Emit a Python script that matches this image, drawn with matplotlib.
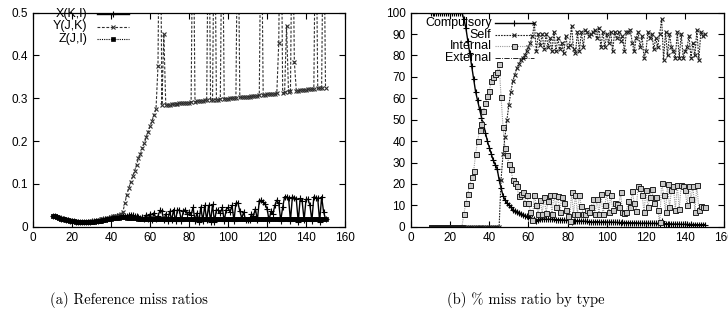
import numpy as np
import matplotlib
matplotlib.use("Agg")
import matplotlib.pyplot as plt
from matplotlib.lines import Line2D

# ---------------- data ----------------
x_vals = np.arange(10, 151)

x_ki = [0.025, 0.024, 0.022, 0.021, 0.019, 0.018, 0.017, 0.016, 0.015, 0.014, 0.013,
        0.013, 0.012, 0.012, 0.012, 0.011, 0.011, 0.011, 0.012, 0.012, 0.013,
        0.013, 0.014, 0.014, 0.015, 0.016, 0.017, 0.018, 0.019, 0.020, 0.021,
        0.022, 0.023, 0.024, 0.025, 0.026, 0.026, 0.025, 0.026, 0.027, 0.028,
        0.027, 0.025, 0.024, 0.022, 0.020, 0.023, 0.018, 0.028, 0.017, 0.030,
        0.016, 0.033, 0.017, 0.025, 0.038, 0.036, 0.015, 0.030, 0.014, 0.036,
        0.015, 0.040, 0.013, 0.040, 0.038, 0.014, 0.036, 0.040, 0.030, 0.034,
        0.028, 0.045, 0.014, 0.032, 0.012, 0.046, 0.013, 0.050, 0.015, 0.050,
        0.012, 0.052, 0.011, 0.040, 0.038, 0.032, 0.045, 0.013, 0.040, 0.045,
        0.034, 0.050, 0.014, 0.055, 0.056, 0.037, 0.020, 0.034, 0.015, 0.016,
        0.015, 0.030, 0.026, 0.042, 0.015, 0.060, 0.062, 0.058, 0.052, 0.042,
        0.015, 0.036, 0.030, 0.050, 0.062, 0.055, 0.014, 0.045, 0.070, 0.070,
        0.068, 0.014, 0.070, 0.068, 0.064, 0.012, 0.066, 0.060, 0.015, 0.064,
        0.064, 0.050, 0.014, 0.070, 0.068, 0.066, 0.012, 0.070, 0.035, 0.018]

y_jk = [0.026, 0.025, 0.023, 0.022, 0.020, 0.019, 0.018, 0.017, 0.016, 0.015,
        0.014, 0.013, 0.013, 0.012, 0.012, 0.012, 0.012, 0.012, 0.012, 0.013,
        0.013, 0.014, 0.014, 0.015, 0.016, 0.017, 0.018, 0.019, 0.020, 0.021,
        0.022, 0.024, 0.025, 0.026, 0.028, 0.030, 0.035, 0.055, 0.075, 0.090,
        0.105, 0.118, 0.130, 0.145, 0.160, 0.170, 0.183, 0.195, 0.210, 0.222,
        0.235, 0.248, 0.262, 0.276, 0.375, 0.900, 0.285, 0.450, 0.284, 0.285,
        0.285, 0.286, 0.286, 0.287, 0.287, 0.288, 0.288, 0.289, 0.289, 0.290,
        0.290, 0.291, 0.800, 0.292, 0.293, 0.293, 0.294, 0.294, 0.295, 0.295,
        0.800, 0.296, 0.296, 0.800, 0.297, 0.297, 0.298, 0.800, 0.298, 0.299,
        0.299, 0.300, 0.300, 0.301, 0.301, 0.800, 0.302, 0.302, 0.303, 0.303,
        0.304, 0.304, 0.305, 0.305, 0.306, 0.306, 0.307, 0.800, 0.308, 0.308,
        0.309, 0.309, 0.310, 0.310, 0.311, 0.312, 0.430, 0.900, 0.313, 0.314,
        0.470, 0.315, 0.316, 0.800, 0.385, 0.318, 0.318, 0.319, 0.319, 0.320,
        0.320, 0.321, 0.321, 0.322, 0.322, 0.800, 0.323, 0.324, 0.324, 0.800,
        0.325]

z_ji = [0.025, 0.024, 0.022, 0.021, 0.019, 0.018, 0.017, 0.016, 0.015, 0.014,
        0.013, 0.013, 0.012, 0.012, 0.011, 0.011, 0.011, 0.011, 0.011, 0.011,
        0.012, 0.012, 0.013, 0.013, 0.014, 0.014, 0.015, 0.016, 0.017, 0.018,
        0.019, 0.020, 0.020, 0.021, 0.021, 0.022, 0.022, 0.022, 0.021, 0.021,
        0.021, 0.020, 0.020, 0.020, 0.019, 0.019, 0.019, 0.019, 0.018, 0.018,
        0.018, 0.018, 0.018, 0.018, 0.018, 0.018, 0.018, 0.018, 0.018, 0.018,
        0.018, 0.018, 0.018, 0.018, 0.018, 0.018, 0.018, 0.018, 0.018, 0.018,
        0.018, 0.018, 0.018, 0.018, 0.018, 0.018, 0.018, 0.018, 0.018, 0.018,
        0.018, 0.018, 0.018, 0.018, 0.018, 0.018, 0.018, 0.018, 0.018, 0.018,
        0.018, 0.018, 0.018, 0.018, 0.018, 0.018, 0.018, 0.018, 0.018, 0.018,
        0.018, 0.018, 0.018, 0.018, 0.018, 0.018, 0.018, 0.018, 0.018, 0.018,
        0.018, 0.018, 0.018, 0.018, 0.018, 0.018, 0.018, 0.018, 0.018, 0.018,
        0.018, 0.018, 0.018, 0.018, 0.018, 0.018, 0.018, 0.018, 0.018, 0.018,
        0.018, 0.018, 0.018, 0.018, 0.018, 0.018, 0.018, 0.018, 0.018, 0.018,
        0.018]

compulsory = [100, 100, 100, 100, 100, 100, 100, 100, 100, 100,
              100, 100, 100, 100, 100, 100, 100, 97, 93, 87,
              81, 75, 69, 63, 59, 55, 51, 48, 44, 40,
              37, 34, 31, 29, 27, 22, 18, 14.5, 12.5, 11,
              10, 9, 8, 7.5, 7, 6.5, 6, 5.6, 5.2, 4.8,
              4.5, 4.2, 3.9, 3.5, 2.8, 3.3, 3.6, 3.6, 3.5, 3.5,
              3.4, 3.5, 3.4, 3.4, 3.3, 3.3, 3.2, 3.2, 3.1, 3.0,
              3.0, 2.9, 2.0, 2.8, 2.8, 2.7, 2.7, 2.6, 2.6, 2.5,
              2.5, 2.2, 2.4, 2.0, 2.4, 2.3, 2.3, 2.0, 2.3, 2.2,
              2.2, 2.1, 2.2, 2.1, 2.1, 2.0, 2.0, 1.6, 2.0, 1.9,
              1.9, 1.9, 1.8, 1.8, 1.8, 1.8, 1.7, 1.7, 1.5, 1.7,
              1.6, 1.6, 1.6, 1.5, 1.6, 1.5, 1.5, 1.4, 2.5, 1.2,
              1.4, 1.3, 1.3, 1.3, 1.2, 1.2, 1.2, 1.2, 1.1, 1.1,
              1.1, 1.1, 1.0, 1.1, 1.0, 1.0, 1.0, 0.9, 1.0, 1.0,
              1.0]

self_miss = [0, 0, 0, 0, 0, 0, 0, 0, 0, 0,
             0, 0, 0, 0, 0, 0, 0, 0, 0, 0,
             0, 0, 0, 0, 0, 0, 0, 0, 0, 0,
             0, 0, 0, 0, 0, 0,
             22, 34, 42, 50,
             57, 63, 68, 71, 74, 76, 78, 79, 80, 82,
             84, 86, 89, 95, 82, 90, 85, 90, 83, 90,
             84, 88, 82, 91, 82, 88, 83, 86, 81, 89,
             84, 85, 94, 83, 81, 91, 82, 91, 84, 92,
             91, 89, 90, 91, 92, 88, 93, 84, 91, 84,
             90, 86, 91, 82, 91, 88, 91, 87, 89, 82,
             91, 91, 92, 86, 82, 88, 91, 84, 89, 79,
             82, 91, 88, 90, 83, 88, 84, 90, 97, 78,
             91, 80, 90, 84, 82, 79, 91, 79, 90, 79,
             82, 84, 89, 79, 86, 80, 92, 78, 91, 89,
             90]

internal = [0, 0, 0, 0, 0, 0, 0, 0, 0, 0,
            0, 0, 0, 0, 0, 0, 0,
            6, 11, 15.5,
            19.5, 23, 26, 34, 40, 45, 48, 54, 58, 61,
            63.5, 68, 70, 71.5, 72.5, 76, 60.5, 46.5, 37, 33.5,
            29.5, 27, 22, 20.5, 19, 14.5, 15.5, 16, 11, 15,
            11, 7, 3, 15, 10, 6, 12.5, 6, 14, 6.5,
            12, 15, 6, 15, 9, 14.5, 7, 14, 11, 8,
            5, 2.5, 16, 6, 15, 6, 15, 9.5, 6, 6,
            8, 7, 9, 13, 6, 13, 6, 15.5, 6, 10,
            16, 7, 15, 8, 11, 10.5, 9, 16, 7, 6.5,
            7, 12, 9, 16.5, 11, 7.5, 19, 18, 15, 7,
            17, 9, 14, 17.5, 11, 14, 8, 2, 20.5, 15,
            7, 20, 9, 17, 19, 8, 19.5, 8.5, 19.5, 19,
            17, 10, 19, 13, 19, 7, 19.5, 8, 9.5, 9,
            9]

external = [0, 0, 0, 0, 0, 0, 0, 0, 0, 0,
            0, 0, 0, 0, 0, 0, 0, 0, 0, 0,
            0, 0, 0, 0, 0, 0, 0, 0, 0, 0,
            0, 0, 0, 0, 0, 0, 0, 0, 0, 0,
            0, 0, 0, 0, 0, 0, 0, 0, 0, 0,
            0, 0, 0, 0, 0, 0, 0, 0, 0, 0,
            0, 0, 0, 0, 0, 0, 0, 0, 0, 0,
            0, 0, 0, 0, 0, 0, 0, 0, 0, 0,
            0, 0, 0, 0, 0, 0, 0, 0, 0, 0,
            0, 0, 0, 0, 0, 0, 0, 0, 0, 0,
            0, 0, 0, 0, 0, 0, 0, 0, 0, 0,
            0, 0, 0, 0, 0, 0, 0, 0, 0, 0,
            0, 0, 0, 0, 0, 0, 0, 0, 0, 0,
            0, 0, 0, 0, 0, 0, 0, 0, 0, 0,
            0]

left_labels = ["X(K,I)", "Y(J,K)", "Z(J,I)"]
right_labels = ["Compulsory", "Self", "Internal", "External"]
caption_a = "(a) Reference miss ratios"
caption_b = "(b) % miss ratio by type"
x_ticks = [0, 20, 40, 60, 80, 100, 120, 140, 160]
left_yticks = [0, 0.1, 0.2, 0.3, 0.4, 0.5]
left_yticklabels = ["0", "0.1", "0.2", "0.3", "0.4", "0.5"]
right_yticks = [0, 10, 20, 30, 40, 50, 60, 70, 80, 90, 100]

for arr in (x_ki, y_jk, z_ji, compulsory, self_miss, internal, external):
    assert len(arr) == len(x_vals), len(arr)

# ---------------- figure ----------------
W, H = 728, 323
fig = plt.figure(figsize=(W / 100, H / 100), dpi=100)
tick_font = "Liberation Sans"
FS = 8.5


def fx(px):
    return px / W


def fy(py):
    return 1 - py / H


def make_axes(x0, x1, y0, y1):
    ax = fig.add_axes([fx(x0), fy(y1), fx(x1) - fx(x0), fy(y0) - fy(y1)])
    ax.tick_params(direction="in", top=True, right=True, length=4, width=0.8,
                   labelsize=FS, pad=4)
    for s in ax.spines.values():
        s.set_linewidth(0.9)
    return ax


axL = make_axes(33.3, 345, 12.7, 226.7)
axR = make_axes(411, 724.3, 12.7, 226.7)

# styles
sty_X = dict(color="black", lw=1.0, ls="-", marker="+", ms=4, mew=0.8)
sty_Y = dict(color="#303030", lw=0.8, ls=(0, (2.5, 1.5)), marker="x", ms=3, mew=0.8)
sty_Z = dict(color="black", lw=0.8, ls=(0, (1, 1)), marker="s", ms=3.4, mew=0.5)

axL.plot(x_vals, x_ki, **sty_X)
axL.plot(x_vals, y_jk, **sty_Y)
axL.plot(x_vals, z_ji, **sty_Z)
axL.set_xlim(0, 160)
axL.set_ylim(0, 0.5)
axL.set_xticks(x_ticks)
axL.set_yticks(left_yticks)
axL.set_yticklabels(left_yticklabels)

sty_C = dict(color="black", lw=1.0, ls="-", marker="+", ms=4, mew=0.8)
sty_S = dict(color="#202020", lw=0.8, ls=(0, (1.5, 1)), marker="x", ms=3, mew=0.8)
sty_I = dict(color="#9a9a9a", lw=0.8, ls=(0, (1, 1)), marker="s", ms=3.6, mew=0.7,
             mfc="#c8c8c8", mec="#202020")
sty_E = dict(color="black", lw=0.6, ls="-.", marker=None)

axR.plot(x_vals, external, **sty_E)
axR.plot(x_vals, compulsory, **sty_C)
axR.plot(x_vals, internal, **sty_I)
axR.plot(x_vals, self_miss, **sty_S)
axR.set_xlim(0, 160)
axR.set_ylim(0, 100)
axR.set_xticks(x_ticks)
axR.set_yticks(right_yticks)

for ax in (axL, axR):
    for lab in ax.get_xticklabels() + ax.get_yticklabels():
        lab.set_fontfamily(tick_font)
        lab.set_fontsize(FS)


# manual gnuplot-like legends (text right-aligned, sample line, marker in middle)
def legend(labels, styles, text_right, x_a, x_b, ys):
    for lab, st, y in zip(labels, styles, ys):
        fig.text(fx(text_right), fy(y), lab, ha="right", va="center",
                 fontsize=FS + 0.5, fontfamily=tick_font)
        st2 = dict(st)
        mk = st2.pop("marker", None)
        ms = st2.pop("ms", None)
        mew = st2.pop("mew", None)
        mfc = st2.pop("mfc", None)
        mec = st2.pop("mec", None)
        fig.add_artist(Line2D([fx(x_a), fx(x_b)], [fy(y), fy(y)],
                              transform=fig.transFigure, **st2))
        if mk:
            kw = dict(marker=mk, ms=ms, mew=mew, color=st2["color"], ls="none")
            if mfc:
                kw["mfc"] = mfc
            if mec:
                kw["mec"] = mec
            fig.add_artist(Line2D([fx((x_a + x_b) / 2)], [fy(y)],
                                  transform=fig.transFigure, **kw))


legend(left_labels, [sty_X, sty_Y, sty_Z], 87.5, 96.5, 128.5, [14, 26.5, 39])
legend(right_labels, [sty_C, sty_S, sty_I, sty_E], 491.5, 494.5, 533.5,
       [22.7, 34.5, 46.3, 58])

cap_font = ["cmr10", "DejaVu Serif"]
fig.text(fx(50), fy(300), caption_a, ha="left", va="center", fontsize=10.5,
         fontfamily=cap_font)
fig.text(fx(447), fy(300), caption_b, ha="left", va="center", fontsize=10.5,
         fontfamily=cap_font)

fig.savefig("out.png", dpi=100)
